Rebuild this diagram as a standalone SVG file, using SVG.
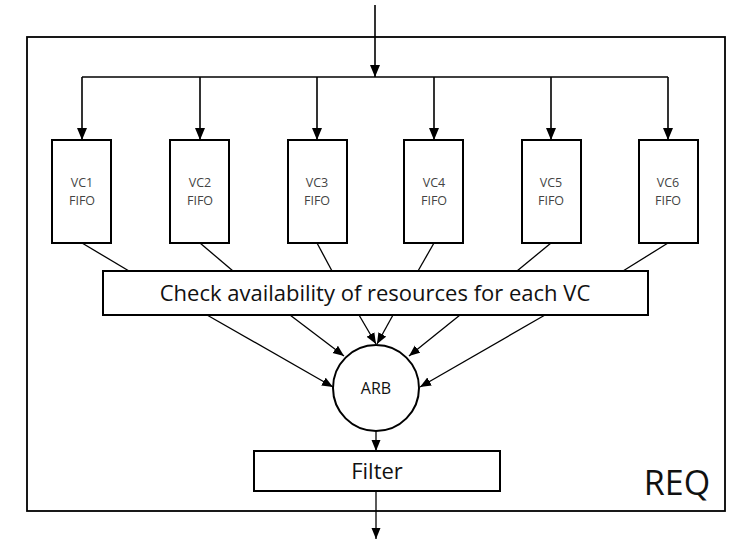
<svg xmlns="http://www.w3.org/2000/svg" width="733" height="542" viewBox="0 0 733 542">
<style>
.box{fill:#fff;stroke:#000;stroke-width:2}
.ln{fill:none;stroke:#000;stroke-width:1.6}
.thin{fill:none;stroke:#000;stroke-width:1.3}
.vc{font-family:"Open Sans","Noto Sans",sans-serif;font-size:12.5px;fill:#444;text-anchor:middle}
.lbl{font-family:"Open Sans","Noto Sans",sans-serif;fill:#111;text-anchor:middle}
</style>
<defs>
<marker id="ah" markerUnits="userSpaceOnUse" markerWidth="12" markerHeight="12" viewBox="0 0 12 12" refX="12" refY="6" orient="auto"><path d="M0,1 L12,6 L0,11 Z" fill="#000"/></marker>
<marker id="ahs" markerUnits="userSpaceOnUse" markerWidth="11" markerHeight="10" viewBox="0 0 11 10" refX="11" refY="5" orient="auto"><path d="M0,0.5 L11,5 L0,9.5 Z" fill="#000"/></marker>
</defs>
<g id="req">
<rect x="27" y="37" width="698" height="474" fill="none" stroke="#000" stroke-width="1.8"/>
<text class="lbl" x="677" y="495" font-size="34">REQ</text>
</g>
<g id="connectors">
<line class="ln" x1="375" y1="5" x2="375" y2="77" marker-end="url(#ah)"/>
<line class="ln" x1="82" y1="77" x2="668" y2="77"/>
<path class="ln" d="M82,77 V140" marker-end="url(#ah)"/>
<path class="ln" d="M200,77 V140" marker-end="url(#ah)"/>
<path class="ln" d="M317,77 V140" marker-end="url(#ah)"/>
<path class="ln" d="M434,77 V140" marker-end="url(#ah)"/>
<path class="ln" d="M551,77 V140" marker-end="url(#ah)"/>
<path class="ln" d="M668,77 V140" marker-end="url(#ah)"/>
<line class="thin" x1="82" y1="243" x2="129" y2="271"/>
<line class="thin" x1="200" y1="243" x2="233" y2="271"/>
<line class="thin" x1="317" y1="243" x2="332" y2="271"/>
<line class="thin" x1="434" y1="243" x2="418" y2="271"/>
<line class="thin" x1="551" y1="243" x2="517" y2="271"/>
<line class="thin" x1="668" y1="243" x2="623" y2="271"/>
<line class="thin" x1="207" y1="315" x2="333" y2="387" marker-end="url(#ahs)"/>
<line class="thin" x1="290" y1="315" x2="344" y2="356" marker-end="url(#ahs)"/>
<line class="thin" x1="359" y1="315" x2="376" y2="344" marker-end="url(#ahs)"/>
<line class="thin" x1="393" y1="315" x2="377" y2="344" marker-end="url(#ahs)"/>
<line class="thin" x1="460" y1="315" x2="409" y2="356" marker-end="url(#ahs)"/>
<line class="thin" x1="545" y1="315" x2="420" y2="387" marker-end="url(#ahs)"/>
<line class="thin" x1="376" y1="431" x2="376" y2="451" marker-end="url(#ahs)"/>
<line class="thin" x1="376" y1="491" x2="376" y2="539" marker-end="url(#ahs)"/>
</g>
<g id="vc1"><rect class="box" x="52" y="140" width="59" height="103"/><text class="vc" x="82" y="187">VC1</text><text class="vc" x="82" y="205">FIFO</text></g>
<g id="vc2"><rect class="box" x="170" y="140" width="59" height="103"/><text class="vc" x="200" y="187">VC2</text><text class="vc" x="200" y="205">FIFO</text></g>
<g id="vc3"><rect class="box" x="288" y="140" width="59" height="103"/><text class="vc" x="317" y="187">VC3</text><text class="vc" x="317" y="205">FIFO</text></g>
<g id="vc4"><rect class="box" x="404" y="140" width="59" height="103"/><text class="vc" x="434" y="187">VC4</text><text class="vc" x="434" y="205">FIFO</text></g>
<g id="vc5"><rect class="box" x="522" y="140" width="59" height="103"/><text class="vc" x="551" y="187">VC5</text><text class="vc" x="551" y="205">FIFO</text></g>
<g id="vc6"><rect class="box" x="639" y="140" width="59" height="103"/><text class="vc" x="668" y="187">VC6</text><text class="vc" x="668" y="205">FIFO</text></g>
<g id="check"><rect class="box" x="103" y="271" width="545" height="44" stroke-width="1.8"/><text class="lbl" x="375" y="301" font-size="22">Check availability of resources for each VC</text></g>
<g id="arb"><circle cx="376" cy="388" r="43" fill="#fff" stroke="#000" stroke-width="2"/><text class="lbl" x="376" y="394" font-size="16">ARB</text></g>
<g id="filter"><rect class="box" x="254" y="451" width="246" height="40" stroke-width="1.8"/><text class="lbl" x="377" y="479" font-size="22">Filter</text></g>
</svg>
